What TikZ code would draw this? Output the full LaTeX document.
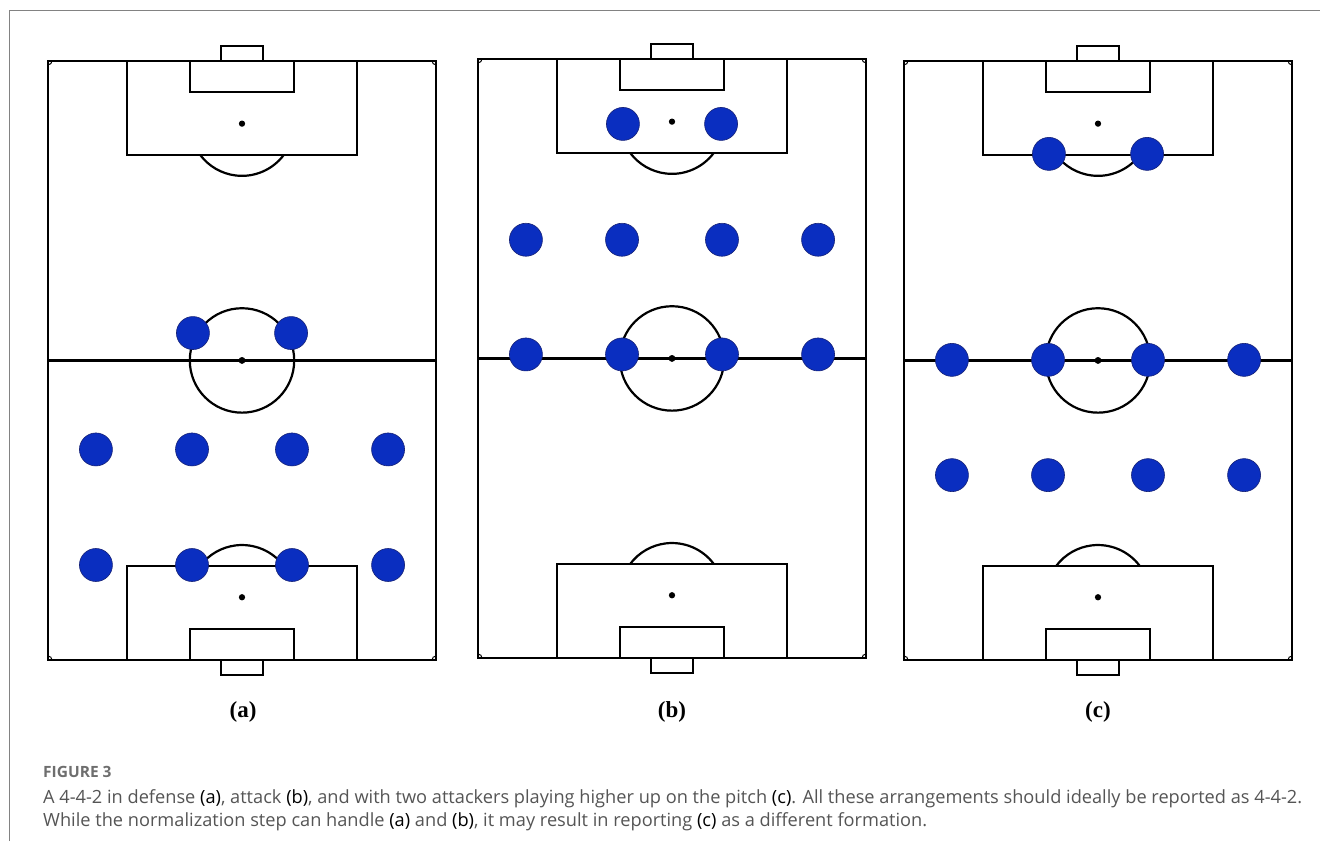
\documentclass[tikz,border=0pt]{standalone}
\usepackage{fontspec}
\setmainfont{Liberation Serif}
\newfontfamily\capfont{Open Sans}
\definecolor{playerblue}{RGB}{10,46,192}
\definecolor{playeredge}{RGB}{22,34,120}
\definecolor{captext}{RGB}{85,85,85}
\definecolor{framegray}{RGB}{130,130,130}

% Standard 68 x 105 m pitch, origin at the bottom-left corner flag
\newcommand{\pitchlines}{%
  \draw[pitchline] (0,0) rectangle (68,105);
  \draw[pitchline] (0,52.5) -- (68,52.5);
  \draw[pitchline] (34,52.5) circle[radius=9.15];
  \fill (34,52.5) circle[radius=0.6];
  % bottom end
  \draw[pitchline] (13.84,0) rectangle (54.16,16.5);
  \draw[pitchline] (24.84,0) rectangle (43.16,5.5);
  \draw[pitchline] (30.34,0) rectangle (37.66,-2.6);
  \fill (34,11) circle[radius=0.55];
  \draw[pitchline] (41.31,16.5) arc[start angle=36.94, end angle=143.06, radius=9.15];
  % top end
  \draw[pitchline] (13.84,105) rectangle (54.16,88.5);
  \draw[pitchline] (24.84,105) rectangle (43.16,99.5);
  \draw[pitchline] (30.34,105) rectangle (37.66,107.6);
  \fill (34,94) circle[radius=0.55];
  \draw[pitchline] (41.31,88.5) arc[start angle=-36.94, end angle=-143.06, radius=9.15];
  % corner arcs
  \draw[line width=1pt] (0.7,0) arc[start angle=0, end angle=90, radius=0.7];
  \draw[line width=1pt] (68,0.7) arc[start angle=90, end angle=180, radius=0.7];
  \draw[line width=1pt] (67.3,105) arc[start angle=180, end angle=270, radius=0.7];
  \draw[line width=1pt] (0,104.3) arc[start angle=270, end angle=360, radius=0.7];
}

\begin{document}
\begin{tikzpicture}[x=1pt, y=-1pt,
  pitchline/.style={draw=black, line width=2.2pt},
  player/.style={circle, fill=playerblue, draw=playeredge, line width=0.6pt,
    minimum size=33pt, inner sep=0pt},
  sublabel/.style={font=\fontsize{23}{25}\selectfont\bfseries},
  captionline/.style={anchor=base west, inner sep=0pt, text=captext,
    font=\capfont\fontsize{18.2}{21}\selectfont}]
\useasboundingbox (0,0) rectangle (1320,841);
\fill[white] (0,0) rectangle (1320,841);

% page frame
\draw[framegray, line width=1pt] (9,841) -- (9,10) -- (1320,10);

% (a) 4-4-2 in defense
\begin{scope}[shift={(48,660)}, x=5.706pt, y=5.706pt]
  \pitchlines
  \node[player] (a1) at (8.4,16.65) {};
  \node[player] (a2) at (25.24,16.65) {};
  \node[player] (a3) at (42.76,16.65) {};
  \node[player] (a4) at (59.6,16.65) {};
  \node[player] (a5) at (8.4,36.9) {};
  \node[player] (a6) at (25.24,36.9) {};
  \node[player] (a7) at (42.76,36.9) {};
  \node[player] (a8) at (59.6,36.9) {};
  \node[player] (a9) at (25.4,57.3) {};
  \node[player] (a10) at (42.6,57.3) {};
\end{scope}

% (b) 4-4-2 in attack
\begin{scope}[shift={(478,658)}, x=5.706pt, y=5.706pt]
  \pitchlines
  \node[player] (b1) at (8.4,53.2) {};
  \node[player] (b2) at (25.24,53.2) {};
  \node[player] (b3) at (42.76,53.2) {};
  \node[player] (b4) at (59.6,53.2) {};
  \node[player] (b5) at (8.4,73.3) {};
  \node[player] (b6) at (25.24,73.3) {};
  \node[player] (b7) at (42.76,73.3) {};
  \node[player] (b8) at (59.6,73.3) {};
  \node[player] (b9) at (25.4,93.6) {};
  \node[player] (b10) at (42.6,93.6) {};
\end{scope}

% (c) two attackers pushed higher up
\begin{scope}[shift={(904,660)}, x=5.706pt, y=5.706pt]
  \pitchlines
  \node[player] (c1) at (8.4,32.4) {};
  \node[player] (c2) at (25.24,32.4) {};
  \node[player] (c3) at (42.76,32.4) {};
  \node[player] (c4) at (59.6,32.4) {};
  \node[player] (c5) at (8.4,52.6) {};
  \node[player] (c6) at (25.24,52.6) {};
  \node[player] (c7) at (42.76,52.6) {};
  \node[player] (c8) at (59.6,52.6) {};
  \node[player] (c9) at (25.4,88.7) {};
  \node[player] (c10) at (42.6,88.7) {};
\end{scope}

% panel labels
\node[sublabel] (la) at (243,712) {(a)};
\node[sublabel] (lb) at (672,712) {(b)};
\node[sublabel] (lc) at (1098,712) {(c)};

% caption
\node[captionline, font=\capfont\bfseries\fontsize{15.5}{18}\selectfont, text=captext!85!white]
  (capnum) at (43,777) {FIGURE 3};
\node[captionline] (cap1) at (43,803)
  {A 4-4-2 in defense \textcolor{black}{(a)}, attack \textcolor{black}{(b)}, and with two attackers playing higher up on the pitch \textcolor{black}{(c)}. All these arrangements should ideally be reported as 4-4-2.};
\node[captionline] (cap2) at (43,826)
  {While the normalization step can handle \textcolor{black}{(a)} and \textcolor{black}{(b)}, it may result in reporting \textcolor{black}{(c)} as a different formation.};
\end{tikzpicture}
\end{document}
